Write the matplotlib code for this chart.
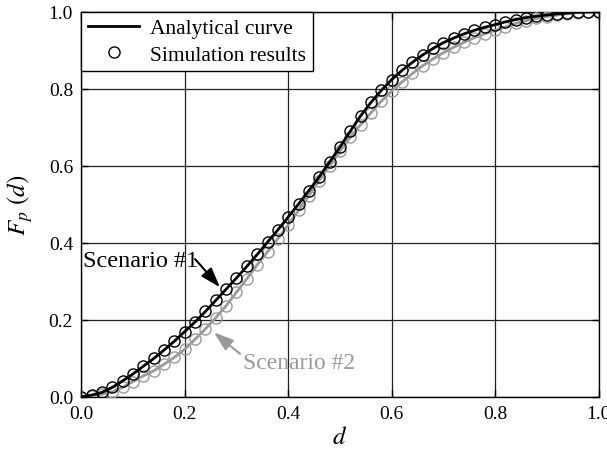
import matplotlib
matplotlib.use("Agg")
import matplotlib.pyplot as plt

# -------------------------------
# Data
# -------------------------------
d = [0.00, 0.02, 0.04, 0.06, 0.08, 0.10, 0.12, 0.14, 0.16, 0.18,
     0.20, 0.22, 0.24, 0.26, 0.28, 0.30, 0.32, 0.34, 0.36, 0.38,
     0.40, 0.42, 0.44, 0.46, 0.48, 0.50, 0.52, 0.54, 0.56, 0.58,
     0.60, 0.62, 0.64, 0.66, 0.68, 0.70, 0.72, 0.74, 0.76, 0.78,
     0.80, 0.82, 0.84, 0.86, 0.88, 0.90, 0.92, 0.94, 0.96, 0.98, 1.00]

# Scenario #1 (black)
f_s1 = [0.000, 0.005, 0.012, 0.025, 0.042, 0.060, 0.080, 0.100, 0.122, 0.145,
        0.170, 0.195, 0.222, 0.251, 0.280, 0.309, 0.339, 0.370, 0.402, 0.434,
        0.467, 0.501, 0.536, 0.572, 0.610, 0.649, 0.690, 0.730, 0.765, 0.796,
        0.824, 0.848, 0.869, 0.888, 0.905, 0.920, 0.932, 0.943, 0.952, 0.960,
        0.967, 0.974, 0.980, 0.985, 0.989, 0.992, 0.995, 0.997, 0.999, 1.000, 1.000]

# Scenario #2 (gray)
f_s2 = [0.000, 0.003, 0.007, 0.014, 0.025, 0.040, 0.055, 0.068, 0.085, 0.103,
        0.124, 0.150, 0.177, 0.206, 0.237, 0.272, 0.307, 0.343, 0.377, 0.411,
        0.447, 0.485, 0.523, 0.562, 0.600, 0.638, 0.675, 0.707, 0.738, 0.768,
        0.794, 0.818, 0.840, 0.860, 0.878, 0.894, 0.908, 0.921, 0.933, 0.943,
        0.952, 0.961, 0.970, 0.977, 0.983, 0.988, 0.992, 0.995, 0.998, 0.999, 1.000]

GRAY = "#9a9a9a"

plt.rcParams["font.family"] = ["Liberation Serif", "DejaVu Serif"]
plt.rcParams["mathtext.fontset"] = "stix"

fig = plt.figure(figsize=(6.07, 4.52), dpi=100)
ax = fig.add_axes([0.134, 0.1195, 0.852, 0.852])

# analytical curves
ax.plot(d, f_s2, color=GRAY, lw=2, zorder=3)
ax.plot(d, f_s1, color="black", lw=2, zorder=4, label="Analytical curve")

# simulation points
ax.plot(d, f_s2, ls="none", marker="o", ms=8, mfc="none", mec=GRAY, mew=1, zorder=3)
ax.plot(d, f_s1, ls="none", marker="o", ms=8, mfc="none", mec="black", mew=1, zorder=4,
        label="Simulation results")

ax.set_xlim(0, 1)
ax.set_ylim(0, 1)
ticks = [0.0, 0.2, 0.4, 0.6, 0.8, 1.0]
ax.set_xticks(ticks)
ax.set_yticks(ticks)
ax.set_xticklabels([f"{t:.1f}" for t in ticks])
ax.set_yticklabels([f"{t:.1f}" for t in ticks])
ax.tick_params(direction="in", length=5, width=1, labelsize=14, pad=6,
               top=True, right=True)
ax.grid(True, color="#222222", lw=0.9)
for s in ax.spines.values():
    s.set_linewidth(1)

ax.set_xlabel(r"$d$", fontsize=18, labelpad=3)
ax.set_ylabel(r"$F_p\ (d)$", fontsize=18, labelpad=10)

leg = ax.legend(loc="upper left", borderaxespad=0, fancybox=False, framealpha=1,
                edgecolor="black", fontsize=15.5, handlelength=2.4,
                borderpad=0.3, labelspacing=0.3, handletextpad=0.5)
leg.get_frame().set_linewidth(1)

# scenario labels
ax.text(0.003, 0.354, "Scenario #1", fontsize=17.5, color="black", va="center", ha="left")
ax.annotate("", xy=(0.268, 0.285), xytext=(0.22, 0.358),
            arrowprops=dict(arrowstyle="-|>,head_length=1.2,head_width=0.4",
                            color="black", lw=1.5, shrinkA=0, shrinkB=0))
ax.text(0.312, 0.09, "Scenario #2", fontsize=17, color=GRAY, va="center", ha="left")
ax.annotate("", xy=(0.256, 0.168), xytext=(0.307, 0.112),
            arrowprops=dict(arrowstyle="-|>,head_length=1.2,head_width=0.4",
                            color=GRAY, lw=1.5, shrinkA=0, shrinkB=0))

fig.savefig("out.png", dpi=100)
